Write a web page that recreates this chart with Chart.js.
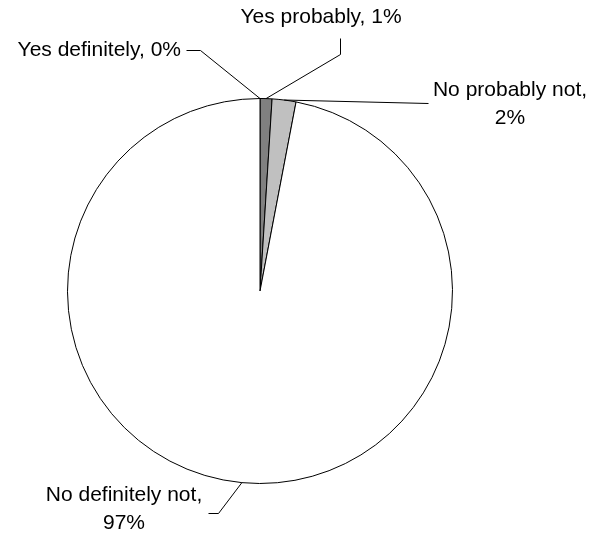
<!DOCTYPE html>
<html>
<head>
<meta charset="utf-8">
<script src="https://cdn.jsdelivr.net/npm/chart.js@4"></script>
<style>
  html,body{margin:0;padding:0;background:#fff;}
  #wrap{width:590px;height:534px;}
</style>
</head>
<body>
<div id="wrap"><canvas id="pie" width="590" height="534"></canvas></div>
<script>
/* ---------- data ---------- */
const answers = ['Yes definitely','Yes probably','No probably not','No definitely not'];
const shares  = [0, 1, 2, 97];
const fills   = ['#404040','#808080','#c0c0c0','#ffffff'];

/* ---------- label layout (text lines, text anchor, elbow points) ---------- */
const labelSpec = [
  {lines:['Yes definitely, 0%'], x:181, y:50, align:'right', elbow:[[200,50],[186,50]]},
  {lines:['Yes probably, 1%'],   x:321, y:17, align:'center', elbow:[[340,54],[340,38]]},
  {lines:['No probably not,','2%'], x:510, y:90, align:'center', elbow:[[428,103]]},
  {lines:['No definitely not,','97%'], x:124, y:495, align:'center', elbow:[[218,513],[208,513]]}
];

const leaderLabels = {
  id:'leaderLabels',
  afterDatasetsDraw(chart){
    const ctx = chart.ctx, arcs = chart.getDatasetMeta(0).data;
    ctx.save();
    ctx.strokeStyle = '#000'; ctx.lineWidth = 1;
    ctx.fillStyle = '#000';
    ctx.font = '21px "Liberation Sans", Arial, sans-serif';
    ctx.textBaseline = 'middle';
    arcs.forEach((a,i)=>{
      const s = labelSpec[i];
      const mid = (a.startAngle + a.endAngle)/2;
      const ax = a.x + Math.cos(mid)*a.outerRadius, ay = a.y + Math.sin(mid)*a.outerRadius;
      ctx.beginPath(); ctx.moveTo(ax, ay);
      s.elbow.forEach(p=>ctx.lineTo(p[0]+.5, p[1]+.5));
      ctx.stroke();
      ctx.textAlign = s.align;
      s.lines.forEach((t,k)=>ctx.fillText(t, s.x, s.y + k*28));
    });
    ctx.restore();
  }
};

new Chart(document.getElementById('pie'),{
  type:'pie',
  data:{labels:answers, datasets:[{data:shares, backgroundColor:fills, borderColor:'#000', borderWidth:1}]},
  options:{
    responsive:false, animation:false,
    layout:{padding:{left:66,right:136,top:98,bottom:50}},
    plugins:{legend:{display:false}, tooltip:{enabled:false}}
  },
  plugins:[leaderLabels]
});
</script>
</body>
</html>
